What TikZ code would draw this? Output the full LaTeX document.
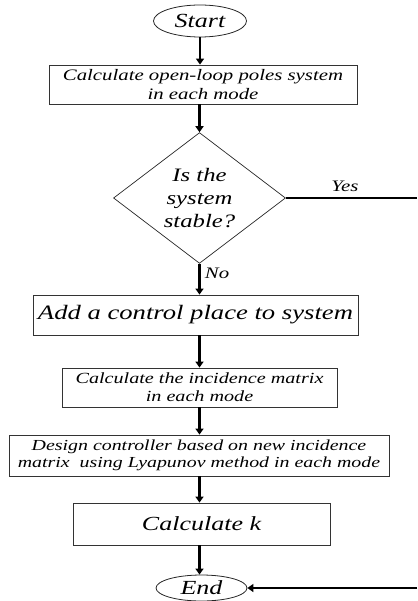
\documentclass[tikz,border=0pt]{standalone}
\usepackage{fontspec}
\setmainfont{Liberation Serif}[FakeStretch=1.3]
\usetikzlibrary{arrows.meta,shapes.geometric}

\tikzset{
  stepbox/.style={draw=black!80, line width=0.8pt, inner sep=0pt, align=center},
  termnode/.style={ellipse, draw=black!85, line width=0.8pt, inner sep=0pt},
  decision/.style={diamond, draw=black!85, line width=0.7pt, inner sep=0pt, align=center,
    minimum width=172pt, minimum height=128pt},
  flowarrow/.style={line width=2.2pt, -{Triangle[length=6pt,width=8pt]}},
  flowline/.style={line width=2.2pt},
  branch/.style={font=\itshape\fontsize{16}{18}\selectfont},
}

\begin{document}
\begin{tikzpicture}[x=1pt,y=-1pt,font=\itshape]
  \useasboundingbox (0,0) rectangle (417,601);
  % Terminals and steps of the flow
  \node[termnode, minimum width=93pt, minimum height=32pt, font=\itshape\fontsize{20}{22}\selectfont]
    (start) at (200,21) {Start};
  \node[stepbox, minimum width=308pt, minimum height=39pt, font=\itshape\fontsize{16}{19}\selectfont]
    (poles) at (203,84.5) {Calculate open-loop poles system\\in each mode};
  \node[decision, font=\itshape\fontsize{19}{23}\selectfont]
    (stable) at (199.5,198) {Is the\\system\\stable?};
  \node[stepbox, minimum width=325pt, minimum height=40pt, font=\itshape\fontsize{20.5}{22}\selectfont]
    (addplace) at (195.5,315) {Add a control place to system};
  \node[stepbox, minimum width=275pt, minimum height=39pt, font=\itshape\fontsize{15.5}{18}\selectfont]
    (incidence) at (199.5,387.5) {Calculate the incidence matrix\\in each mode};
  \node[stepbox, minimum width=380pt, minimum height=41pt, font=\itshape\fontsize{15.3}{17.5}\selectfont]
    (design) at (199,455.5) {Design controller based on new incidence\\matrix~ using Lyapunov method in each mode};
  \node[stepbox, minimum width=257pt, minimum height=42pt, font=\itshape\fontsize{20}{22}\selectfont]
    (calck) at (201.5,524) {Calculate k};
  \node[termnode, minimum width=91pt, minimum height=26pt, font=\itshape\fontsize{20}{22}\selectfont]
    (end) at (201.5,588) {End};
  % Loose ends at the right border
  \coordinate (yesend) at (417,198);
  \coordinate (loopin) at (417,588);
  % Arrows
  \draw[flowarrow] (start.south) -- (start.south |- poles.north);
  \draw[flowarrow] (stable.north |- poles.south) -- (stable.north);
  \draw[flowline] (stable.east) -- node[branch, above=2pt, pos=0.45]{Yes} (yesend);
  \draw[flowarrow] (stable.south) -- node[branch, right=1pt, pos=0.3]{No} (stable.south |- addplace.north);
  \draw[flowarrow] (stable.south |- addplace.south) -- (stable.south |- incidence.north);
  \draw[flowarrow] (stable.south |- incidence.south) -- (stable.south |- design.north);
  \draw[flowarrow] (stable.south |- design.south) -- (stable.south |- calck.north);
  \draw[flowarrow] (stable.south |- calck.south) -- (stable.south |- end.north);
  \draw[flowarrow] (loopin) -- (end.east);
\end{tikzpicture}
\end{document}
